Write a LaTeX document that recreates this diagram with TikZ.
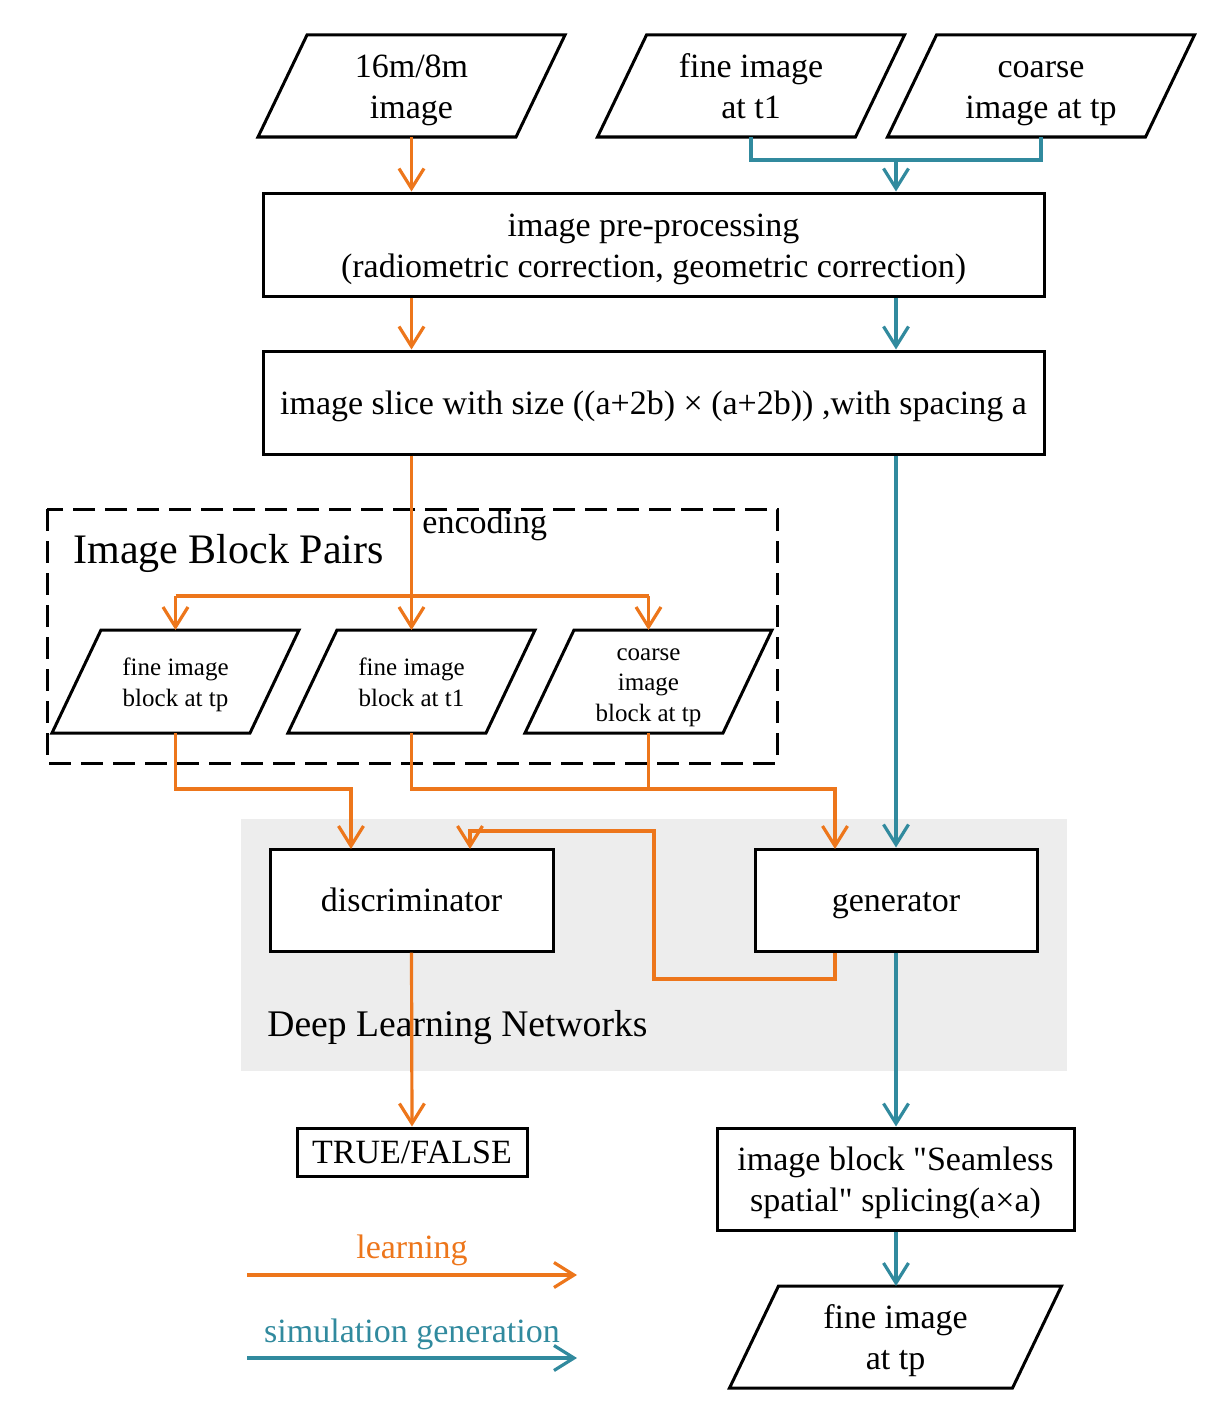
\documentclass[tikz,border=0pt]{standalone}
\usepackage{fontspec}
\setmainfont{Liberation Serif}
\usetikzlibrary{arrows.meta}
\definecolor{learncol}{RGB}{237,118,27}
\definecolor{simcol}{RGB}{49,138,158}
\definecolor{netgray}{RGB}{237,237,237}
\newcommand{\mainfs}{\fontsize{17}{20.5}\selectfont}
\newcommand{\smallfs}{\fontsize{12.5}{15.3}\selectfont}
\newcommand{\titlefs}{\fontsize{21}{24}\selectfont}
\newcommand{\netfs}{\fontsize{18.8}{22}\selectfont}
% struts that centre the lines in their boxes
\newcommand{\onestrut}{\rule[-4pt]{0pt}{19.5pt}}
\newcommand{\twostrut}{\rule[-4.5pt]{0pt}{41.8pt}}
\newcommand{\blkstrut}{\rule[-3.2pt]{0pt}{31pt}}
\newcommand{\blkthree}{\rule[-3.2pt]{0pt}{46.3pt}}
\tikzset{
  iobase/.style={rectangle, inner sep=0pt, outer sep=0pt, align=center,
    append after command={\pgfextra{\let\ionode\tikzlastnode
      \draw [line width=1.5pt]
      ([xshift=12.25pt]\ionode.north west) -- ([xshift=12.25pt]\ionode.north east)
      -- ([xshift=-12.25pt]\ionode.south east) -- ([xshift=-12.25pt]\ionode.south west) -- cycle;}}},
  io/.style={iobase, font=\mainfs, execute at begin node=\twostrut},
  blockio/.style={iobase, font=\smallfs, execute at begin node=\blkstrut},
  blockio3/.style={blockio, execute at begin node=\blkthree},
  proc/.style={draw, fill=white, line width=1.5pt, rectangle, inner sep=0pt, align=center, font=\mainfs,
    execute at begin node=\onestrut, execute at end node=\onestrut},
  proc2/.style={proc, execute at begin node=\twostrut},
  learn/.style={draw=learncol, line width=1.6pt},
  sim/.style={draw=simcol, line width=1.6pt},
}
\begin{document}
\begin{tikzpicture}[x=0.5pt,y=0.5pt,yscale=-1,xscale=1,>={Straight Barb[length=10pt,width=12.5pt]}]
    \useasboundingbox (0,0) rectangle (1228,1418);
    %Shape: Rectangle (network background)
    \fill [netgray] (241,819) rectangle (1067,1071);
    %Shape: Rectangle (dashed frame)
    \draw [dash pattern=on 11pt off 5pt, line width=1.5pt] (47,509) rectangle (777,763);
    \node [anchor=west, inner sep=0pt, font=\titlefs] (pairs) at (73,553) {Image Block Pairs};
    \node [anchor=west, inner sep=0pt, font=\netfs] (dln) at (267,1027) {Deep Learning Networks};
    \node [anchor=west, inner sep=0pt, font=\mainfs] (enc) at (422,525) {encoding};

    %Shape: Parallelogram
    \node [io, minimum width=129pt, minimum height=51pt] (img) at (411.5,86) {16m/8m\\image};
    \node [io, minimum width=129pt, minimum height=51pt] (fine1) at (751,86) {fine image\\at t1};
    \node [io, minimum width=129pt, minimum height=51pt] (coarsep) at (1041,86) {coarse\\image at tp};
    %Shape: Rectangle
    \node [proc2, minimum width=390.5pt, minimum height=51.5pt] (pre) at (653.5,244.5) {image pre-processing\\(radiometric correction, geometric correction)};
    \node [proc, minimum width=390.5pt, minimum height=51.5pt] (slice) at (653.5,402.5) {image slice with size ((a+2b) × (a+2b)) ,with spacing a};
    %Shape: Parallelogram
    \node [blockio, minimum width=99pt, minimum height=51.5pt] (bfp) at (175.5,681.5) {fine image\\block at tp};
    \node [blockio, minimum width=99pt, minimum height=51.5pt] (bft1) at (411.5,681.5) {fine image\\block at t1};
    \node [blockio3, minimum width=99pt, minimum height=51.5pt] (bcp) at (648.5,681.5) {coarse\\image\\block at tp};
    %Shape: Rectangle
    \node [proc, minimum width=141.5pt, minimum height=51pt] (disc) at (411.5,900) {discriminator};
    \node [proc, minimum width=141pt, minimum height=51pt] (gen) at (896,900) {generator};
    \node [proc, minimum width=115pt, minimum height=24pt] (tf) at (412,1152) {TRUE/FALSE};
    \node [proc2, minimum width=178.5pt, minimum height=51pt] (splice) at (895.5,1179) {image block \textquotedbl Seamless\\spatial\textquotedbl{} splicing(a×a)};
    %Shape: Parallelogram
    \node [io, minimum width=141.5pt, minimum height=51pt] (finep) at (895.5,1337) {fine image\\at tp};

    \coordinate (join) at (896,160);
    \coordinate (split) at (411.5,596);
    \coordinate (row) at (0,789);
    \coordinate (hook) at (0,831);
    \coordinate (dA) at (351,849);
    \coordinate (dB) at (470,849);
    \coordinate (gA) at (835,849);
    \coordinate (turn) at (654,979);

    %Straight Lines
    \draw [learn,->] (img.south) -- (img.south |- pre.north);
    \draw [sim] (fine1.south) |- (join) -| (coarsep.south);
    \draw [sim,->] (join) -- (join |- pre.north);
    \draw [learn,->] (img.south |- pre.south) -- (img.south |- slice.north);
    \draw [sim,->] (join |- pre.south) -- (join |- slice.north);
    \draw [learn] (img.south |- slice.south) -- (split);
    \draw [learn] (split -| bfp.center) -- (split -| bcp.center);
    \foreach \b in {bfp,bft1,bcp}
        \draw [learn,->] (split -| \b.center) -- (\b.north);
    \draw [sim,->] (join |- slice.south) -- (gen.north);
    \draw [learn,->] (bfp.south) |- (dA |- row) -- (dA);
    \draw [learn,->] (bft1.south) |- (gA |- row) -- (gA);
    \draw [learn] (bcp.south) -- (bcp.south |- row);
    \draw [learn,->] (gA |- gen.south) |- (turn) |- (dB |- hook) -- (dB);
    \draw [learn,->] (disc.south) -- (tf.north);
    \draw [sim,->] (gen.south) -- (gen.south |- splice.north);
    \draw [sim,->] (gen.south |- splice.south) -- (gen.south |- finep.north);

    %Legend
    \node [font=\mainfs, text=learncol] (lgl) at (412,1250) {learning};
    \coordinate (la) at (247,1275);
    \coordinate (lb) at (577,1275);
    \draw [learn,->] (la) -- (lb);
    \node [font=\mainfs, text=simcol] (lgs) at (412,1334) {simulation generation};
    \coordinate (sa) at (247,1358);
    \coordinate (sb) at (577,1358);
    \draw [sim,->] (sa) -- (sb);
\end{tikzpicture}
\end{document}
